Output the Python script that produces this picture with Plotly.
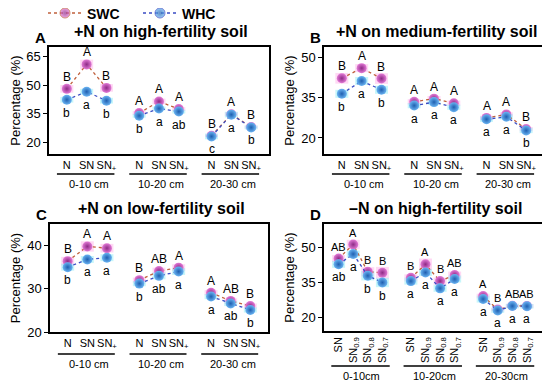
import plotly.graph_objects as go
from plotly.subplots import make_subplots

# ---- data ----
depths_abc = ["0-10 cm", "10-20 cm", "20-30 cm"]
treat_abc = ["N", "SN", "SN<sub>+</sub>"]
depths_d = ["0-10cm", "10-20cm", "20-30cm"]
treat_d = ["SN", "SN<sub>0.9</sub>", "SN<sub>0.8</sub>", "SN<sub>0.7</sub>"]

# A: +N on high-fertility soil
swc_a = [48.1, 60.9, 48.6, 35.4, 41.5, 37.5, 23.5, 34.8, 28.1]
whc_a = [42.4, 46.6, 41.9, 34.0, 37.8, 36.2, 23.2, 34.6, 27.9]
swc_a_err = [2.0, 2.5, 2.0, 1.0, 1.5, 1.0, 0.6, 1.0, 0.8]
whc_a_err = [1.5, 1.5, 1.5, 1.0, 1.0, 1.0, 1.5, 1.5, 1.0]
up_a = ["B", "A", "B", "A", "A", "A", "B", "A", "B"]
lo_a = ["b", "a", "b", "b", "a", "ab", "c", "a", "b"]

# B: +N on medium-fertility soil
swc_b = [42.3, 46.1, 42.2, 33.5, 34.7, 33.0, 27.5, 28.8, 23.3]
whc_b = [36.5, 41.3, 38.0, 32.1, 33.4, 31.5, 27.0, 27.9, 22.8]
swc_b_err = [2.0, 1.5, 2.0, 1.0, 1.0, 1.0, 0.8, 0.8, 0.8]
whc_b_err = [1.5, 1.5, 1.5, 1.0, 1.0, 1.0, 1.0, 1.0, 1.0]
up_b = ["B", "A", "B", "A", "A", "A", "A", "A", "B"]
lo_b = ["b", "a", "b", "a", "a", "a", "a", "a", "b"]

# C: +N on low-fertility soil
swc_c = [36.4, 39.8, 39.4, 32.0, 34.1, 34.9, 29.1, 27.2, 26.0]
whc_c = [35.0, 36.8, 37.2, 31.2, 33.0, 34.0, 28.2, 26.6, 25.1]
swc_c_err = [1.0, 1.2, 1.0, 0.6, 0.8, 0.8, 0.6, 0.6, 0.6]
whc_c_err = [0.8, 0.8, 0.8, 0.6, 0.8, 0.8, 0.6, 0.6, 0.6]
up_c = ["B", "A", "A", "B", "AB", "A", "A", "AB", "B"]
lo_c = ["b", "a", "a", "b", "ab", "a", "a", "ab", "b"]

# D: -N on high-fertility soil
swc_d = [45.4, 51.4, 39.7, 39.3, 37.1, 42.9, 35.7, 38.3, 29.3, 23.5, 25.1, 25.0]
whc_d = [42.9, 47.3, 38.0, 35.1, 35.7, 39.4, 32.6, 36.6, 28.0, 23.1, 25.0, 24.9]
swc_d_err = [1.5, 2.0, 2.0, 2.5, 1.5, 2.5, 1.5, 1.5, 1.0, 0.8, 0.8, 0.8]
whc_d_err = [1.5, 1.5, 2.0, 2.0, 1.5, 1.5, 1.5, 1.5, 1.5, 1.0, 1.0, 1.0]
up_d = ["AB", "A", "B", "B", "B", "A", "B", "AB", "A", "B", "AB", "AB"]
lo_d = ["ab", "a", "b", "b", "a", "a", "a", "a", "a", "a", "a", "a"]

FONT = "Arial, Liberation Sans, sans-serif"
SWC_C, WHC_C = "#8e2a86", "#1f5fb0"
SWC_HI, WHC_HI = "#e27ad6", "#6ab4f2"
SWC_LINE, WHC_LINE = "#c0603c", "#3a4cc4"
SWC_BAND, WHC_BAND = "rgba(255,170,230,0.45)", "rgba(130,235,245,0.45)"

# the page body has an 8px margin, so the figure starts 8px in from the corner
OFF = 8
W, H = 550 - OFF, 384 - OFF


def px(x):
    return min(max((x - OFF) / W, 0), 1)


def py(y):
    return min(max(1 - (y - OFF) / H, 0), 1)


def positions(n_groups, n_per, gap):
    return [g * gap + i for g in range(n_groups) for i in range(n_per)]


def broken(vals, n_per):
    # insert None between depth groups so lines do not connect
    out = []
    for k, v in enumerate(vals):
        if k and k % n_per == 0:
            out.append(None)
        out.append(v)
    return out


fig = make_subplots(rows=2, cols=2)

panels = [
    (1, 1, swc_a, whc_a, swc_a_err, whc_a_err, up_a, lo_a, 3, 3.65, [-0.9, 10.2], [14, 70],
     [20, 35, 50, 65], treat_abc, depths_abc, "+N on high-fertility soil", "A"),
    (1, 2, swc_b, whc_b, swc_b_err, whc_b_err, up_b, lo_b, 3, 3.65, [-0.9, 10.2], [14, 54],
     [20, 35, 50], treat_abc, depths_abc, "+N on medium-fertility soil", "B"),
    (2, 1, swc_c, whc_c, swc_c_err, whc_c_err, up_c, lo_c, 3, 3.65, [-0.9, 10.2], [20, 45],
     [20, 30, 40], treat_abc, depths_abc, "+N on low-fertility soil", "C"),
    (2, 2, swc_d, whc_d, swc_d_err, whc_d_err, up_d, lo_d, 4, 4.95, [-1, 14], [14.3, 60.2],
     [20, 35, 50], treat_d, depths_d, "\u2013N on high-fertility soil", "D"),
]

# screen-pixel boxes of the plot areas (left, right, top, bottom)
boxes = [(49, 269, 47, 154), (324, 544, 47, 154), (50, 268, 224, 332), (324, 543, 224, 331)]

for idx, (r, c, swc, whc, se, we, up, lo, n_per, gap, xr, yr, yt, treat, depths, title, tag) in enumerate(panels):
    n_groups = len(depths)
    xs = positions(n_groups, n_per, gap)
    for vals, errs, band in [(swc, se, SWC_BAND), (whc, we, WHC_BAND)]:
        fig.add_trace(go.Scatter(
            x=xs, y=vals, mode="markers", showlegend=False, hoverinfo="skip",
            marker=dict(size=1, color="rgba(0,0,0,0)"),
            error_y=dict(type="data", array=errs, thickness=13, width=0, color=band),
        ), row=r, col=c)
    for name, vals, col, hi, lcol in [("SWC", swc, SWC_C, SWC_HI, SWC_LINE),
                                       ("WHC", whc, WHC_C, WHC_HI, WHC_LINE)]:
        fig.add_trace(go.Scatter(
            x=broken(xs, n_per), y=broken(vals, n_per), mode="lines+markers", name=name,
            showlegend=False,
            line=dict(color=lcol, width=1.3, dash="dot"),
            marker=dict(size=10, color=hi, gradient=dict(type="radial", color=col)),
        ), row=r, col=c)

    axn = "" if idx == 0 else str(idx + 1)
    xa, ya = "xaxis" + axn, "yaxis" + axn
    left, right, top, bottom = boxes[idx]
    fig.layout[xa].update(
        domain=[px(left), px(right)], range=xr, tickvals=xs, ticktext=treat * n_groups,
        showgrid=False, zeroline=False, showline=True, mirror=True, linecolor="black", linewidth=1.5,
        ticks="", tickangle=-90 if n_per == 4 else 0, automargin=False,
        tickfont=dict(size=11, color="black", family=FONT),
    )
    fig.layout[ya].update(
        domain=[py(bottom), py(top)], range=yr, tickvals=yt, automargin=False,
        showgrid=False, zeroline=False, showline=True, mirror=True, linecolor="black", linewidth=1.5,
        ticks="outside", ticklen=4, tickwidth=1.2, tickcolor="black",
        tickfont=dict(size=13, color="black", family=FONT),
        title=dict(text="Percentage (%)", font=dict(size=13, color="black", family=FONT), standoff=4),
    )

    xref, yref = "x" + axn, "y" + axn
    for x, v, t in zip(xs, swc, up):
        fig.add_annotation(x=x, y=v, xref=xref, yref=yref, text=t, showarrow=False, yshift=12,
                           xanchor="center", yanchor="middle",
                           font=dict(size=12 if n_per == 3 else 11, color="black", family=FONT))
    for x, v, t in zip(xs, whc, lo):
        fig.add_annotation(x=x, y=v, xref=xref, yref=yref, text=t, showarrow=False, yshift=-13,
                           xanchor="center", yanchor="middle",
                           font=dict(size=12, color="black", family=FONT))

    # depth group underline + label
    if n_per == 4:
        line_y, lab_y, ext = 366, 376, (-0.5, 3.5)
    elif idx == 2:
        line_y, lab_y, ext = 354, 364, (-0.5, 2.4)
    else:
        line_y, lab_y, ext = 174, 184, (-0.5, 2.4)
    for g, d in enumerate(depths):
        x0 = g * gap
        fig.add_shape(type="line", xref=xref, yref="paper", x0=x0 + ext[0], x1=x0 + ext[1],
                      y0=py(line_y), y1=py(line_y), line=dict(color="black", width=1.3))
        fig.add_annotation(x=x0 + (n_per - 1) / 2 + 0.1, y=py(lab_y), xref=xref, yref="paper", text=d,
                           showarrow=False, xanchor="center", yanchor="middle",
                           font=dict(size=11, color="black", family=FONT))

    # panel title and letter
    cx = (left + right) / 2 + 2
    fig.add_annotation(x=px(cx), y=py(top - 15), xref="paper", yref="paper",
                       text="<b>%s</b>" % title, showarrow=False, xanchor="center", yanchor="middle",
                       font=dict(size=16, color="black", family=FONT))
    fig.add_annotation(x=px(left - 9), y=py(top - 10), xref="paper", yref="paper",
                       text="<b>%s</b>" % tag, showarrow=False, xanchor="center", yanchor="middle",
                       font=dict(size=15, color="black", family=FONT))

# ---- legend, drawn on an overlay axis measured in screen pixels ----
fig.update_layout(
    xaxis5=dict(domain=[0, 1], range=[OFF, OFF + W], visible=False, fixedrange=True),
    yaxis5=dict(domain=[0, 1], range=[OFF + H, OFF], visible=False, fixedrange=True),
)
for name, x_mid, col, hi, lcol in [("SWC", 65, SWC_C, SWC_HI, SWC_LINE),
                                    ("WHC", 160, WHC_C, WHC_HI, WHC_LINE)]:
    fig.add_trace(go.Scatter(
        x=[x_mid - 17, x_mid, x_mid + 17], y=[13, 13, 13], xaxis="x5", yaxis="y5",
        mode="lines+markers", showlegend=False, hoverinfo="skip",
        line=dict(color=lcol, width=1.3, dash="dot"),
        marker=dict(size=[0, 10, 0], color=hi, gradient=dict(type="radial", color=col)),
    ))
    fig.add_annotation(x=px(x_mid + 20), y=py(13.5), xref="paper", yref="paper",
                       text="<b>%s</b>" % name, showarrow=False, xanchor="left", yanchor="middle",
                       font=dict(size=14, color="black", family=FONT))

fig.update_layout(
    width=W, height=H, margin=dict(l=0, r=0, t=0, b=0, autoexpand=False),
    paper_bgcolor="white", plot_bgcolor="rgba(0,0,0,0)",
    font=dict(family=FONT, color="black"),
    showlegend=False,
)

fig.write_html("out.html")
